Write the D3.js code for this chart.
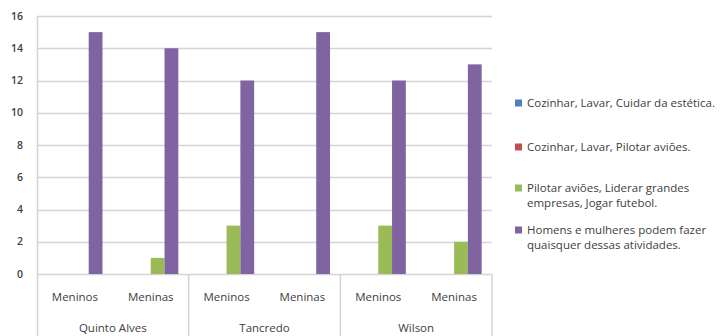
<!DOCTYPE html>
<html>
<head>
<meta charset="utf-8">
<script src="https://cdn.jsdelivr.net/npm/d3@7"></script>
<style>
  body { margin: 0; background: #fff; }
  svg { display: block; font-family: "Open Sans", sans-serif; }
</style>
</head>
<body>
<svg id="chart" width="725" height="336"></svg>
<script>
// data
const schools = ['Quinto Alves', 'Tancredo', 'Wilson'];
const groups = ['Meninos', 'Meninas'];
const series = [
  'Cozinhar, Lavar, Cuidar da estética.',
  'Cozinhar, Lavar, Pilotar aviões.',
  'Pilotar aviões, Liderar grandes empresas, Jogar futebol.',
  'Homens e mulheres podem fazer quaisquer dessas atividades.'
];
const legendLines = [
  ['Cozinhar, Lavar, Cuidar da estética.'],
  ['Cozinhar, Lavar, Pilotar aviões.'],
  ['Pilotar aviões, Liderar grandes', 'empresas, Jogar futebol.'],
  ['Homens e mulheres podem fazer', 'quaisquer dessas atividades.']
];
// one array per series, in category order (QA Meninos, QA Meninas, T Meninos, ...)
const blueValues = [0, 0, 0, 0, 0, 0];
const redValues = [0, 0, 0, 0, 0, 0];
const greenValues = [0, 1, 3, 0, 3, 2];
const purpleValues = [15, 14, 12, 15, 12, 13];
const yTicks = [0, 2, 4, 6, 8, 10, 12, 14, 16];
const colors = ['#4F81BD', '#C0504D', '#9BBB59', '#8064A2'];

const allValues = [blueValues, redValues, greenValues, purpleValues];
const categories = [];
schools.forEach(s => groups.forEach(g => categories.push({ key: s + '|' + g, school: s, group: g })));

const margin = { top: 16, left: 37, right: 233, bottom: 62 };
const width = 725, height = 336;
const plotW = width - margin.left - margin.right;
const plotH = height - margin.top - margin.bottom;

const svg = d3.select('#chart');
const g = svg.append('g').attr('transform', `translate(${margin.left},${margin.top})`);

const y = d3.scaleLinear().domain([0, 16]).range([plotH, 0]);
const x0 = d3.scaleBand().domain(categories.map(c => c.key)).range([0, plotW]).padding(0);
const x1 = d3.scaleBand().domain(d3.range(series.length)).range([0, x0.bandwidth()])
  .paddingInner(0).paddingOuter(0.75);
const xSchool = d3.scaleBand().domain(schools).range([0, plotW]).padding(0);

const gridColor = '#d4d4d4';
const textColor = '#404040';

// gridlines
g.append('g')
  .selectAll('line')
  .data(yTicks)
  .join('line')
  .attr('x1', 0).attr('x2', plotW)
  .attr('y1', d => Math.round(y(d)) + 0.5).attr('y2', d => Math.round(y(d)) + 0.5)
  .attr('stroke', gridColor).attr('stroke-width', 1.5);

// left border of plot
g.append('line')
  .attr('x1', 0.5).attr('x2', 0.5)
  .attr('y1', y(16)).attr('y2', height - margin.top)
  .attr('stroke', gridColor).attr('stroke-width', 1.5);

// y tick labels
g.append('g')
  .selectAll('text')
  .data(yTicks)
  .join('text')
  .attr('x', -14).attr('y', d => y(d))
  .attr('dy', '0.35em')
  .attr('text-anchor', 'end')
  .attr('font-size', 10.5)
  .attr('font-weight', 600)
  .attr('fill', textColor)
  .text(d => d);

// bars
const catG = g.append('g')
  .selectAll('g')
  .data(categories)
  .join('g')
  .attr('transform', c => `translate(${x0(c.key)},0)`);

catG.selectAll('rect')
  .data((c, i) => allValues.map((vals, s) => ({ s, v: vals[i] })).filter(d => d.v > 0))
  .join('rect')
  .attr('x', d => x1(d.s))
  .attr('width', x1.bandwidth())
  .attr('y', d => y(d.v))
  .attr('height', d => y(0) - y(d.v))
  .attr('fill', d => colors[d.s]);

// category separators below axis
g.append('g')
  .selectAll('line')
  .data(schools.slice(1).concat(['__end']))
  .join('line')
  .attr('x1', d => d === '__end' ? plotW : xSchool(d))
  .attr('x2', d => d === '__end' ? plotW : xSchool(d))
  .attr('y1', plotH).attr('y2', height - margin.top)
  .attr('stroke', gridColor).attr('stroke-width', 1.5);

// group labels
g.append('g')
  .selectAll('text')
  .data(categories)
  .join('text')
  .attr('x', c => x0(c.key) + x0.bandwidth() / 2)
  .attr('y', plotH + 23)
  .attr('dy', '0.35em')
  .attr('text-anchor', 'middle')
  .attr('font-size', 11.5)
  .attr('fill', textColor)
  .text(c => c.group);

// school labels
g.append('g')
  .selectAll('text')
  .data(schools)
  .join('text')
  .attr('x', s => xSchool(s) + xSchool.bandwidth() / 2)
  .attr('y', plotH + 54)
  .attr('dy', '0.35em')
  .attr('text-anchor', 'middle')
  .attr('font-size', 11.5)
  .attr('fill', textColor)
  .text(s => s);

// legend
const legendY = [103, 147, 188, 230];
const legend = svg.append('g')
  .selectAll('g')
  .data(series)
  .join('g')
  .attr('transform', (d, i) => `translate(515,${legendY[i]})`);

legend.append('rect')
  .attr('x', 0).attr('y', -3.5)
  .attr('width', 7).attr('height', 7)
  .attr('fill', (d, i) => colors[i]);

legend.append('text')
  .attr('x', 12)
  .attr('y', 0)
  .attr('font-size', 11.5)
  .attr('fill', textColor)
  .selectAll('tspan')
  .data((d, i) => legendLines[i])
  .join('tspan')
  .attr('x', 12)
  .attr('dy', (d, j) => j === 0 ? '0.35em' : '15')
  .text(d => d);
</script>
</body>
</html>
